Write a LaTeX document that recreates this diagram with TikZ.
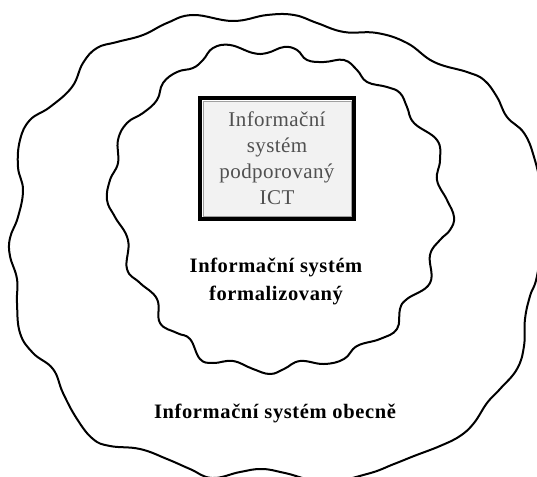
\documentclass[tikz,border=0pt]{standalone}
\usepackage{fontspec}
\setmainfont{Liberation Serif}
\definecolor{boxfill}{HTML}{F2F2F2}
\definecolor{boxline}{HTML}{A0A0A0}
\definecolor{boxtext}{HTML}{505050}
\begin{document}
\begin{tikzpicture}[x=1pt,y=-1pt,
  wave/.style={line width=2pt, line join=round, smooth cycle, tension=0.7},
  frame/.style={draw=black, line width=4pt, fill=white, minimum width=154pt, minimum height=121pt, inner sep=0pt},
  inframe/.style={draw=boxline, line width=0.9pt, fill=boxfill},
  ictlbl/.style={font=\fontsize{21}{26}\selectfont\addfontfeatures{LetterSpace=2}, align=center, text=boxtext},
  boldlbl/.style={font=\fontsize{20.5}{28}\selectfont\bfseries\addfontfeatures{LetterSpace=3}, align=center, text=black}]
\useasboundingbox (0,0) rectangle (537,476);
\clip (0,0) rectangle (537,476);
% outer wavy boundary
\draw[wave] plot coordinates {
 (267,15) (294,15) (317,23) (344,32) (377,33) (407,43) (434,62) (467,72) (484,80)
 (497,97) (507,117) (524,133) (534,157) (541,190) (543,230) (537,276) (530,296)
 (525,319) (524,346) (517,369) (500,389) (487,403) (474,423) (460,436) (440,446)
 (414,456) (394,464) (367,474) (325,482) (285,473) (262,469) (240,472) (212,478)
 (190,469) (167,459) (140,449) (110,446) (93,439) (77,419) (63,393) (53,369)
 (33,353) (20,333) (17,303) (17,279) (10,256) (10,238) (18,217) (23,190) (18,167)
 (20,140) (30,120) (50,107) (72,87) (83,63) (97,48) (117,42) (143,35) (167,23)
 (193,15) (233,21)};
% inner wavy boundary
\draw[wave] plot coordinates {
 (267,53) (284,47) (297,50) (307,60) (324,62) (344,60) (357,70) (367,82) (387,87)
 (400,93) (407,107) (414,123) (437,140) (440,160) (437,180) (447,200) (454,217)
 (450,230) (440,240) (430,255) (430,283) (407,299) (400,309) (397,329) (380,339)
 (357,346) (344,359) (324,364) (300,361) (284,369) (270,374) (253,369) (233,361)
 (213,363) (200,359) (190,339) (177,333) (160,323) (157,299) (140,283) (127,269)
 (128,240) (115,217) (107,200) (110,180) (118,163) (118,140) (127,123) (143,113)
 (157,100) (163,83) (177,72) (193,68) (203,60) (213,48) (230,45) (253,53)};
% ICT box
\node[frame] (ictframe) at (277,158.5) {};
\draw[inframe] ([shift={(5,5)}]ictframe.north west) rectangle ([shift={(-5,-5)}]ictframe.south east);
\node[ictlbl] (ict) at (ictframe.center) {Informační\\systém\\podporovaný\\ICT};
% labels
\node[boldlbl] (formal) at (276,281) {Informační systém\\formalizovaný};
\node[boldlbl] (obecne) at (275,413) {Informační systém obecně};
\end{tikzpicture}
\end{document}
